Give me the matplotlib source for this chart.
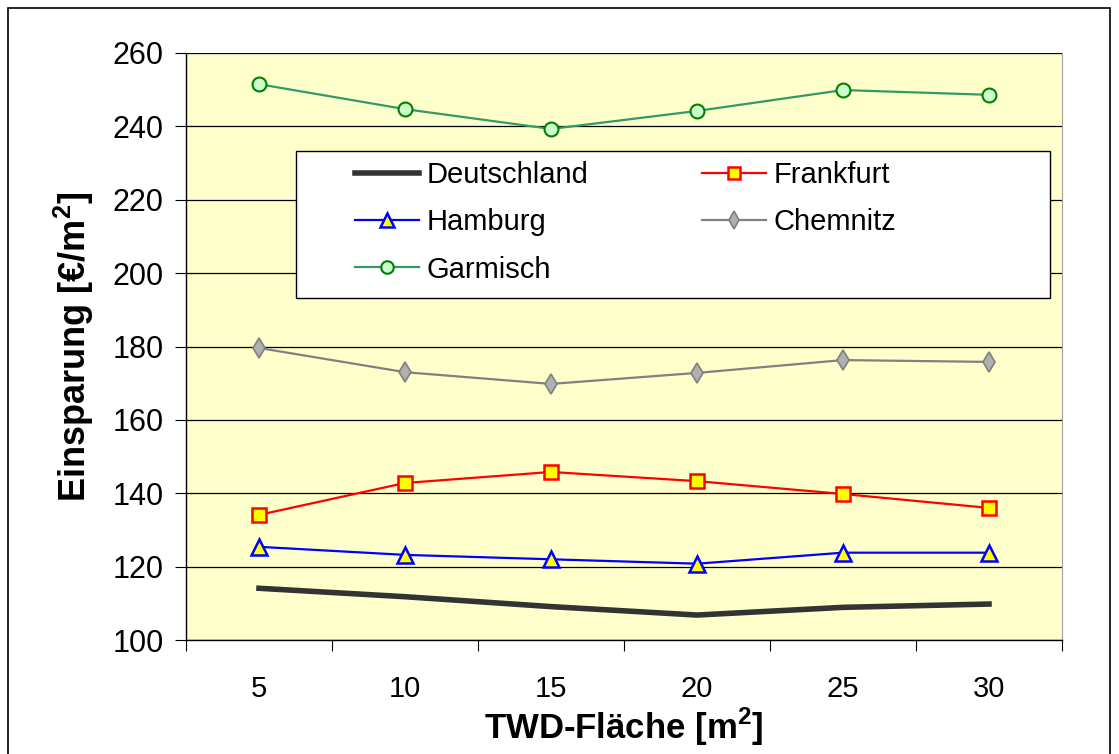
import numpy as np
import matplotlib.pyplot as plt
from matplotlib import font_manager
from matplotlib.patches import Rectangle

plt.rcParams['font.family'] = ['Liberation Sans', 'DejaVu Sans']

# narrow face for the category axis and axis titles (falls back if missing)
installed = {f.name for f in font_manager.fontManager.ttflist}
narrow = 'Liberation Sans Narrow' if 'Liberation Sans Narrow' in installed else 'Liberation Sans'
plt.rcParams['mathtext.fontset'] = 'custom'
plt.rcParams['mathtext.rm'] = narrow
plt.rcParams['mathtext.bf'] = narrow + ':bold'

# TWD-Fläche categories
areas = ['5', '10', '15', '20', '25', '30']

deutschland = [114.1, 111.8, 109.1, 106.8, 108.9, 109.8]
frankfurt = [134.1, 142.8, 145.8, 143.3, 139.8, 136.0]
hamburg = [125.4, 123.2, 122.0, 120.8, 123.8, 123.8]
chemnitz = [179.6, 173.0, 169.8, 172.8, 176.3, 175.8]
garmisch = [251.5, 244.7, 239.3, 244.2, 249.9, 248.6]

y_ticks = [100, 120, 140, 160, 180, 200, 220, 240, 260]

fig = plt.figure(figsize=(11.19, 7.54), dpi=100)
ax = fig.add_axes([186 / 1119, 1 - 640 / 754, 876 / 1119, 587 / 754])
ax.set_facecolor('#FFFFCC')

# outer chart frame
fig.patches.append(Rectangle((8 / 1119, -0.01), 1102 / 1119, 1 - 8 / 754 + 0.01,
                             transform=fig.transFigure, fill=False,
                             edgecolor='black', linewidth=1.2))

x = np.arange(1, len(areas) + 1)

l_de, = ax.plot(x, deutschland, color='#333333', linewidth=4, label='Deutschland', zorder=3)
l_fr, = ax.plot(x, frankfurt, color='red', linewidth=1.6, marker='s', markersize=10,
                markerfacecolor='yellow', markeredgecolor='red', markeredgewidth=1.8,
                label='Frankfurt', zorder=4)
l_hh, = ax.plot(x, hamburg, color='blue', linewidth=1.6, marker='^', markersize=11,
                markerfacecolor='yellow', markeredgecolor='blue', markeredgewidth=1.8,
                label='Hamburg', zorder=4)
l_ch, = ax.plot(x, chemnitz, color='#808080', linewidth=1.6, marker='d', markersize=10,
                markerfacecolor='#B0B0B0', markeredgecolor='#808080', markeredgewidth=1.2,
                label='Chemnitz', zorder=4)
l_ga, = ax.plot(x, garmisch, color='#339966', linewidth=1.6, marker='o', markersize=10,
                markerfacecolor='#CCFFCC', markeredgecolor='#008000', markeredgewidth=1.5,
                label='Garmisch', zorder=4)

ax.set_xlim(0.5, len(areas) + 0.5)
ax.set_ylim(100, 260)
ax.set_yticks(y_ticks)
ax.set_yticklabels([str(t) for t in y_ticks], fontsize=22)
ax.yaxis.grid(True, color='black', linewidth=0.9)
ax.set_axisbelow(True)

ax.set_xticks(x)
ax.set_xticklabels(areas, fontsize=21, family=[narrow, 'DejaVu Sans'])
ax.set_xticks(np.arange(0.5, len(areas) + 1, 1), minor=True)
ax.tick_params(axis='x', which='major', length=0, pad=25)
ax.tick_params(axis='x', which='minor', length=8, width=0.8, direction='out')
ax.tick_params(axis='y', length=8, width=0.8, direction='out', pad=8)

for s in ['left', 'bottom']:
    ax.spines[s].set_color('black')
    ax.spines[s].set_linewidth(1.0)
ax.spines['top'].set_visible(False)
ax.spines['right'].set_color('#A0A0A0')

ax.set_xlabel('TWD-Fläche [m$^\\mathbf{2}$]', fontsize=25, fontweight='bold',
              family=[narrow, 'DejaVu Sans'], labelpad=2)
ax.set_ylabel('Einsparung [€/m$^\\mathbf{2}$]', fontsize=26, fontweight='bold',
              family=[narrow, 'DejaVu Sans'], labelpad=12)

# legend box (white, black border) with the entries laid out row by row
ax.add_patch(Rectangle(((296 - 186) / 876, (640 - 298) / 587), (1050 - 296) / 876,
                       (298 - 151) / 587, transform=ax.transAxes, facecolor='white',
                       edgecolor='black', linewidth=1.0, zorder=5))
leg = ax.legend([l_de, l_hh, l_ga, l_fr, l_ch],
                ['Deutschland', 'Hamburg', 'Garmisch', 'Frankfurt', 'Chemnitz'],
                loc='upper left', bbox_to_anchor=((355 - 186) / 876, (640 - 161) / 587),
                ncol=2, fontsize=21, frameon=False, handlelength=2.2,
                handletextpad=0.25, columnspacing=3.9, labelspacing=0.66,
                borderpad=0, borderaxespad=0, markerscale=0.9)
leg.set_zorder(6)

fig.savefig('out.png', dpi=100)
